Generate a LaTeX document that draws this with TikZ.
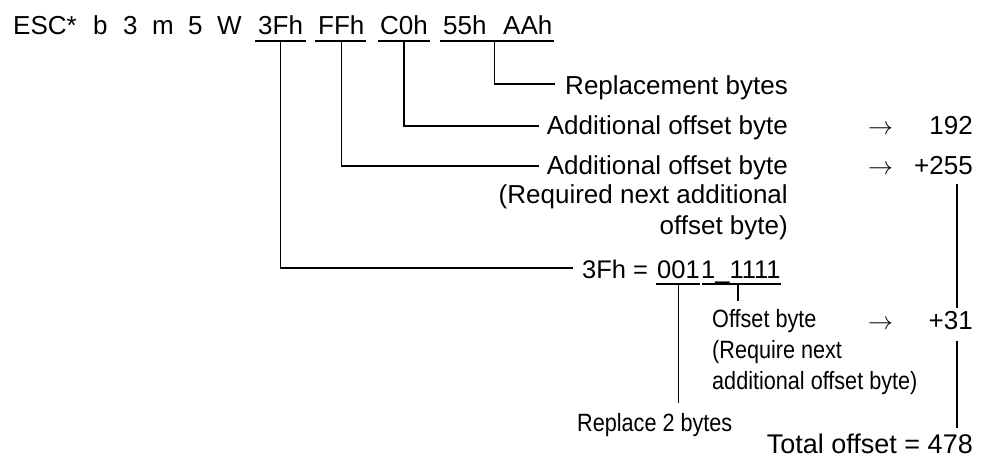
\documentclass[tikz,border=0pt]{standalone}
\usepackage{fontspec}
\usetikzlibrary{calc}
\setmainfont{Liberation Sans}
\newfontfamily\narrowfont{Liberation Sans}[FakeStretch=0.865]
\begin{document}
\begin{tikzpicture}[x=1pt,y=-1pt,
  reg/.style={inner sep=0pt, font=\fontsize{26}{31}\selectfont},
  bin/.style={inner sep=0pt, font=\fontsize{25.5}{30}\selectfont},
  nar/.style={inner sep=0pt, font=\fontsize{25}{30}\selectfont\narrowfont},
  conn/.style={line width=1.2pt, line cap=rect}]
\useasboundingbox (0,0) rectangle (986,457);
% top command line
\node[reg, anchor=base west] (esc) at (13,35) {ESC*};
\node[reg, anchor=base west] (tb) at (93,35) {b};
\node[reg, anchor=base west] (t3) at (123,35) {3};
\node[reg, anchor=base west] (tm) at (152,35) {m};
\node[reg, anchor=base west] (t5) at (188,35) {5};
\node[reg, anchor=base west] (tw) at (217,35) {W};
\node[reg, anchor=base west] (t3f) at (258,35) {3Fh};
\node[reg, anchor=base west] (tff) at (318,35) {FFh};
\node[reg, anchor=base west] (tc0) at (380,35) {C0h};
\node[reg, anchor=base west] (t55) at (443,35) {55h};
\node[reg, anchor=base west] (taa) at (503,35) {AAh};
% underlines
\draw[conn] ([xshift=-2pt,yshift=-6pt]t3f.base west) -- ([xshift=2pt,yshift=-6pt]t3f.base east);
\draw[conn] ([xshift=-2pt,yshift=-6pt]tff.base west) -- ([xshift=1pt,yshift=-6pt]tff.base east);
\draw[conn] ([xshift=-1pt,yshift=-6pt]tc0.base west) -- ([xshift=1pt,yshift=-6pt]tc0.base east);
\draw[conn] ([xshift=-2pt,yshift=-6pt]t55.base west) -- ([xshift=1pt,yshift=-6pt]taa.base east);
% right column texts
\node[reg, anchor=base east] (rep) at (788,95) {Replacement bytes};
\node[reg, anchor=base east] (add1) at (788,135) {Additional offset byte};
\node[reg, anchor=base east] (add2) at (788,175) {Additional offset byte};
\node[reg, anchor=base east] (req) at (788,204) {(Required next additional};
\node[reg, anchor=base east] (obt) at (788,235) {offset byte)};
\node[reg, anchor=base west] (ar1) at (868,135) {$\rightarrow$};
\node[reg, anchor=base west] (ar2) at (868,175) {$\rightarrow$};
\node[reg, anchor=base west] (ar3) at (868,330) {$\rightarrow$};
\node[reg, anchor=base east] (n192) at (973,135) {192};
\node[reg, anchor=base east] (n255) at (973,175) {+255};
\node[reg, anchor=base east] (n31) at (973,330) {+31};
\node[reg, anchor=base east, font=\fontsize{27}{31}\selectfont] (tot) at (973,453) {Total offset = 478};
% binary line
\node[bin, anchor=base west] (binA) at (582,279) {3Fh =};
\node[bin, anchor=base west] (binB) at (657,279) {001};
\node[bin, anchor=base west] (binC) at (701,279) {1\_1111};
\draw[conn] ([yshift=-5pt]binB.base west) -- ([xshift=-1pt,yshift=-5pt]binB.base east);
\draw[conn] ([xshift=2pt,yshift=-5pt]binC.base west) -- ([yshift=-5pt]binC.base east);
% narrow texts
\node[nar, anchor=base west] (ob) at (712,327) {Offset byte};
\node[nar, anchor=base west] (rn) at (712,358) {(Require next};
\node[nar, anchor=base west] (aob) at (712,389) {additional offset byte)};
\node[nar, anchor=base west] (r2b) at (577,431) {Replace 2 bytes};
% connector points
\coordinate (p3f) at ([yshift=-6pt]t3f.base);
\coordinate (pff) at ([yshift=-6pt]tff.base);
\coordinate (pc0) at ([yshift=-6pt]tc0.base);
\coordinate (p55) at ($([yshift=-6pt]t55.base east)!0.5!([yshift=-6pt]taa.base west)$);
\coordinate (repL) at ([xshift=-11pt,yshift=11pt]rep.base west);
\coordinate (add1L) at ([xshift=-8pt,yshift=9pt]add1.base west);
\coordinate (add2L) at ([xshift=-8pt,yshift=9pt]add2.base west);
\coordinate (binL) at ([xshift=-10pt,yshift=11pt]binA.base west);
\draw[conn] (p55) |- (repL);
\draw[conn] (pc0) |- (add1L);
\draw[conn] (pff) |- (add2L);
\draw[conn] (p3f) |- (binL);
% from binary digits
\coordinate (bB) at ([yshift=-5pt]binB.base);
\coordinate (bBend) at (bB |- 0,402);
\draw[conn] (bB) -- (bBend);
\coordinate (bC) at ([xshift=-3pt,yshift=-5pt]binC.base);
\coordinate (bCend) at (bC |- 0,300);
\draw[conn] (bC) -- (bCend);
% right total line
\coordinate (v1) at (957,185);
\coordinate (v2) at (957,307);
\coordinate (v3) at (957,342);
\coordinate (v4) at (957,427);
\draw[conn] (v1) -- (v2);
\draw[conn] (v3) -- (v4);
\end{tikzpicture}
\end{document}
